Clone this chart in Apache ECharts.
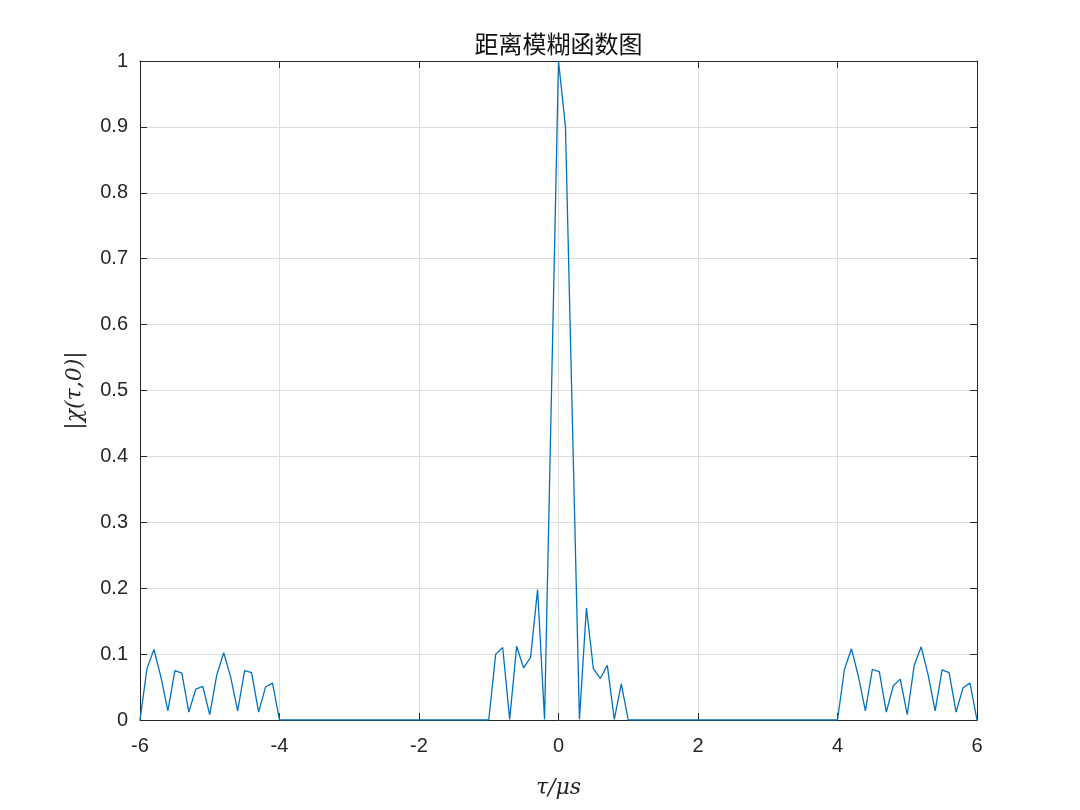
<!DOCTYPE html>
<html>
<head>
<meta charset="utf-8">
<script src="https://cdn.jsdelivr.net/npm/echarts@6/dist/echarts.min.js"></script>
<style>html,body{margin:0;padding:0;background:#fff;}#main{width:1080px;height:810px;}</style>
</head>
<body>
<div id="main"></div>
<script>
// Data (tau in microseconds, |chi(tau,0)|)
const tauLeft = [-6,-5.9,-5.8,-5.7,-5.6,-5.5,-5.4,-5.3,-5.2,-5.1,-5,-4.9,-4.8,-4.7,-4.6,-4.5,-4.4,-4.3,-4.2,-4.1,-4];
const valLeft = [0,0.078,0.107,0.065,0.014,0.075,0.071,0.012,0.047,0.051,0.008,0.068,0.102,0.065,0.014,0.075,0.072,0.012,0.050,0.056,0];
const tauCenter = [-1,-0.9,-0.8,-0.7,-0.6,-0.5,-0.4,-0.3,-0.2,-0.1,0,0.1,0.2,0.3,0.4,0.5,0.6,0.7,0.8,0.9,1];
const valCenter = [0,0.100,0.110,0.001,0.112,0.079,0.095,0.198,0.001,0.5,1.0,0.9,0.45,0.001,0.170,0.078,0.063,0.083,0.001,0.055,0];
const tauRight = [4,4.1,4.2,4.3,4.4,4.5,4.6,4.7,4.8,4.9,5,5.1,5.2,5.3,5.4,5.5,5.6,5.7,5.8,5.9,6];
const valRight = [0,0.077,0.108,0.066,0.014,0.077,0.073,0.012,0.052,0.062,0.008,0.083,0.111,0.068,0.014,0.076,0.072,0.012,0.049,0.056,0];
const xTicks = [-6,-4,-2,0,2,4,6];
const titleText = '距离模糊函数图';
const xName = 'τ/μs';
const yName = '|χ(τ,0)|';

const seriesData = [];
[[tauLeft,valLeft],[tauCenter,valCenter],[tauRight,valRight]].forEach(([t,v])=>{
  t.forEach((x,i)=>seriesData.push([x,v[i]]));
});

const chart = echarts.init(document.getElementById('main'));
const axisCol = '#262626';
const labelFont = {fontFamily:'Liberation Sans, Arial, sans-serif', fontSize:20, color:axisCol};
chart.setOption({
  animation:false,
  backgroundColor:'#fff',
  grid:{left:140,right:103,top:61,bottom:90,containLabel:false},
  xAxis:[{
    type:'value',min:-6,max:6,interval:2,position:'bottom',
    axisLine:{onZero:false,lineStyle:{color:axisCol,width:1}},
    axisTick:{inside:true,length:7,lineStyle:{color:axisCol}},
    axisLabel:Object.assign({margin:16,formatter:v=>xTicks.includes(v)?String(v):''},labelFont),
    splitLine:{show:true,lineStyle:{color:'#dedede',width:1}},
    name:xName,nameLocation:'middle',nameGap:57,
    nameTextStyle:{fontFamily:'DejaVu Serif, Liberation Serif, serif',fontStyle:'italic',fontSize:22,color:axisCol}
  },{
    type:'value',min:-6,max:6,interval:2,position:'top',
    axisLine:{onZero:false,lineStyle:{color:axisCol,width:1}},
    axisTick:{inside:true,length:7,lineStyle:{color:axisCol}},
    axisLabel:{show:false},splitLine:{show:false},
    name:titleText,nameLocation:'middle',nameGap:5,
    nameTextStyle:{fontFamily:'Noto Sans CJK SC',fontSize:24,color:'#111',verticalAlign:'bottom'}
  }],
  yAxis:[{
    type:'value',min:0,max:1,interval:0.1,position:'left',
    axisLine:{onZero:false,lineStyle:{color:axisCol,width:1}},
    axisTick:{inside:true,length:7,lineStyle:{color:axisCol}},
    axisLabel:Object.assign({margin:12,formatter:v=>String(Math.round(v*10)/10)},labelFont),
    splitLine:{show:true,lineStyle:{color:'#dedede',width:1}},
    name:yName,nameLocation:'middle',nameGap:54,nameRotate:90,
    nameTextStyle:{fontFamily:'DejaVu Serif, Liberation Serif, serif',fontStyle:'italic',fontSize:22,color:axisCol}
  },{
    type:'value',min:0,max:1,interval:0.1,position:'right',
    axisLine:{onZero:false,lineStyle:{color:axisCol,width:1}},
    axisTick:{inside:true,length:7,lineStyle:{color:axisCol}},
    axisLabel:{show:false},splitLine:{show:false}
  }],
  series:[{
    type:'line',xAxisIndex:0,yAxisIndex:0,data:seriesData,
    showSymbol:false,symbol:'none',
    lineStyle:{color:'#0072BD',width:1.3},
    z:3
  }]
});
</script>
</body>
</html>
